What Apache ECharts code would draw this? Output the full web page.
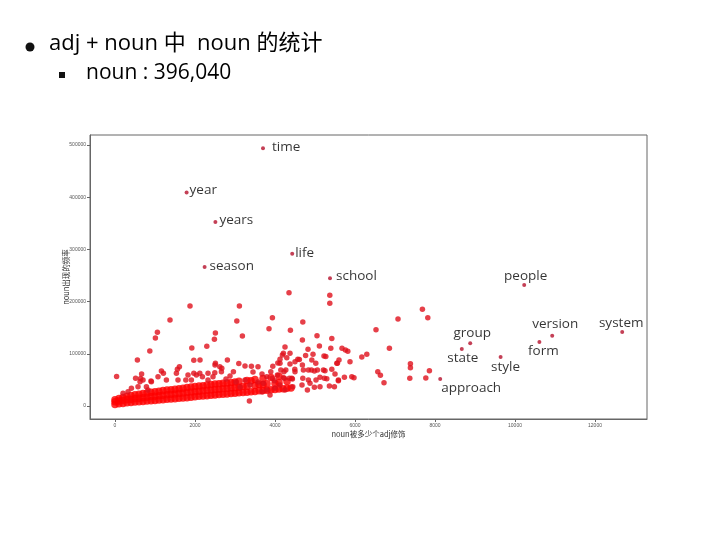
<!DOCTYPE html>
<html><head><meta charset="utf-8">
<script src="https://cdn.jsdelivr.net/npm/echarts@6/dist/echarts.min.js"></script>
<style>html,body{margin:0;padding:0;background:#fff}#c{width:720px;height:540px}</style>
</head><body><div id="c"></div>
<script>
const xTicks = [0, 2000, 4000, 6000, 8000, 10000, 12000];
const yTicks = [0, 100000, 200000, 300000, 400000, 500000];

const labeledNames = ['time','year','years','season','life','school','people','version','system','group','form','state','style','approach'];
const labeledX = [3700, 1790, 2510, 2240, 4430, 5375, 10230, 10930, 12680, 8880, 10610, 8670, 9640, 8130];
const labeledY = [494000, 409000, 352500, 266300, 291800, 244700, 231800, 134700, 141800, 120100, 122600, 109200, 93900, 51700];

const densePoints = [
[0,3000],[0,8000],[0,12000],
[100,4500],[100,9500],[100,14500],
[200,5000],[200,11000],[200,16500],
[300,6000],[300,12500],[300,18500],
[400,6500],[400,13000],[400,20000],
[500,7500],[500,14500],[500,21500],
[600,8000],[600,15000],[600,22500],
[700,8500],[700,16000],[700,24000],
[800,9500],[800,17000],[800,25000],
[900,10000],[900,18000],[900,26500],
[1000,10500],[1000,18500],[1000,27500],
[1100,11500],[1100,19500],[1100,28500],
[1200,12000],[1200,20500],[1200,29500],
[1300,13000],[1300,21500],[1300,30500],
[1400,13500],[1400,22500],[1400,31000],
[1500,14000],[1500,23000],[1500,32000],
[1600,15000],[1600,24000],[1600,33000],
[1700,15500],[1700,25000],[1700,34000],
[1800,16000],[1800,26000],[1800,35500],
[1900,17000],[1900,27000],[1900,36500],
[2000,17500],[2000,27500],[2000,37500],
[2100,18500],[2100,28500],[2100,38500],
[2200,19000],[2200,29000],[2200,39000],
[2300,19500],[2300,30000],[2300,40000],
[2400,20500],[2400,30500],[2400,41000],
[2500,21000],[2500,31500],[2500,42000],
[2600,22000],[2600,32000],[2600,42500],
[2700,22500],[2700,33000],[2700,43500],
[2800,23000],[2800,33500],[2800,44000],
[2900,24000],[2900,34500],[2900,45000],
[3000,24500],[3000,35000],[3000,46000],
[3100,25200],[3100,36000],[3100,47500],
[3200,26000],[3200,37500],
[3300,26500],[3300,38000],[3300,49000],
[3400,27500],[3400,48500],
[3500,28000],[3500,39500],[3500,51000],
[3600,29000],[3600,41000],
[3700,29500],[3700,40500],[3700,52500],
[3800,30000],[3800,42500],
[3900,31000],[3900,54500],
[4000,31500],[4000,43000],
[4100,32500],[4100,45000],[4100,57000],
[4200,33000],
[4300,34000],[4300,47000],
[4400,34500]
];

const sparsePoints = [
[4350,217100],[1875,191600],[3110,191600],[1375,164800],[3045,162900],[3935,169200],
[1060,141200],[1010,130300],[2510,139900],[2485,127800],[3185,134100],[3850,148100],[4385,145000],
[1920,111100],[2295,114400],[870,105400],[4250,113000],[560,88100],[1970,87600],[2125,88100],
[2510,81800],[2810,88100],[3095,81400],[4185,97700],[40,56500],[1160,67100],[1210,62700],
[1610,75300],[1560,70300],[515,53100],[665,61300],[640,52700],[900,47900],[3360,9600],
[3410,76100],[3575,75300],[3945,76100],[4070,82400],[4125,89500],[4295,92500],[4375,80500],
[4495,70300],[4445,37000],[4435,51700],[4235,53100],[3985,48500],[4570,89500],
[5370,212100],[5370,197000],[7685,185300],[7820,169200],[7075,166700],[4695,160900],[6525,146200],
[5050,134500],[5420,129300],[4685,126500],[4825,108800],[5110,115000],[5395,110600],[5675,110600],
[5760,107300],[5820,104800],[6860,110600],[6295,99100],[6170,93900],[4210,101000],[4375,101000],
[4765,96800],[4950,99100],[5225,95800],[5270,94800],[5600,88100],[5560,81800],[5875,84900],
[4610,89100],[4685,78600],[4920,88100],[5020,81800],[4125,81800],[4500,84900],[7385,81000],
[7385,73400],[6570,65700],[6635,58800],[7860,67600],[6725,44600],[7370,53100],[7770,53600],
[4270,69000],[4835,69000],[4985,67100],[5210,69000],[5420,70300],[4210,54200],[4420,53100],
[4695,53100],[5025,49800],[5235,53100],[5585,48500],[5735,55000],[5920,56100],[5975,54200],
[4810,30700],[4985,35800],[5125,37000],[5360,38300],[5485,37000],[4675,40200],[4835,49800],
[4875,43500],[5125,55000],[5295,52000],[5500,61300],[5585,49800],[2670,72200],[2960,65700],
[3250,76600],[3895,65700],[4145,69000],[4225,65700],[3795,56100],[3935,53100],[4060,59400],
[4360,53100],[4500,65700],[4710,69000],[4910,69000],[5060,69000],[5250,67600],[5545,81800],
[3875,21100],[3795,30700],[3710,43500],[2500,78600],[700,49800],[625,46600],
[1825,59400],[1970,62700],[2035,59400],[2120,62700],[2325,62700],[2495,63800],[2620,75300],
[2660,65700],[910,46600],[1075,56100],[1285,49800],[1535,62700],[1575,49800],[1770,49800],
[1910,49800],[2185,56100],[2325,49800],[2450,56100],[410,33900],[325,27400],[200,24300],
[575,37000],[785,37000],[825,30700],[3375,40200],[3575,46000],[3250,49800],[3125,36400],
[4125,40200],[4250,30700],[4000,34500],[3675,26800],[2875,57500],[2775,51700],[3450,65100],
[3675,61300],[3025,46000]
];

// label placement (style only)
const labelPlacement = {
  time:    {position:'right',  distance:7, offset:[0,-1]},
  year:    {position:'right',  distance:1, offset:[0,-2]},
  years:   {position:'right',  distance:2, offset:[0,-2]},
  season:  {position:'right',  distance:3, offset:[0,-1]},
  life:    {position:'right',  distance:1, offset:[0,-1]},
  school:  {position:'right',  distance:4, offset:[0,-2]},
  people:  {position:'top',    distance:0, offset:[1.5,0]},
  version: {position:'top',    distance:3, offset:[3,0]},
  system:  {position:'top',    distance:0, offset:[-1,0]},
  group:   {position:'top',    distance:1, offset:[2,0]},
  form:    {position:'bottom', distance:0, offset:[4,0]},
  state:   {position:'bottom', distance:0, offset:[1,0]},
  style:   {position:'bottom', distance:1, offset:[5,0]},
  approach:{position:'bottom', distance:0, offset:[31,0]}
};

const chart = echarts.init(document.getElementById('c'), null, {renderer:'canvas'});
const fmt = v => String(v);
chart.setOption({
  animation: false,
  backgroundColor: '#ffffff',
  graphic: [
    {type:'circle', shape:{cx:30, cy:47, r:4.5}, style:{fill:'#111'}},
    {type:'text', x:49, y:44, style:{text:'adj + noun 中  noun 的统计', font:'22px "Open Sans", "Noto Sans CJK SC", sans-serif', fill:'#000', verticalAlign:'middle'}},
    {type:'rect', shape:{x:59, y:72, width:6, height:6}, style:{fill:'#111'}},
    {type:'text', x:86, y:73, style:{text:'noun : 396,040', font:'21px "Open Sans", sans-serif', fill:'#000', verticalAlign:'middle'}}
  ],
  grid: {left:90, right:73, top:135, bottom:121, show:true, borderColor:'#666', borderWidth:1, backgroundColor:'#fff'},
  xAxis: {
    type:'value', min:-625, max:13300,
    axisLine:{show:true, onZero:false, lineStyle:{color:'#666'}},
    axisTick:{show:true, customValues:xTicks, length:3, lineStyle:{color:'#666'}},
    axisLabel:{customValues:xTicks, formatter:fmt, fontSize:5, color:'#555', margin:4},
    splitLine:{show:false},
    name:'noun被多少个adj修饰', nameLocation:'middle', nameGap:11, nameMoveOverlap:false,
    nameTextStyle:{fontSize:7.5, color:'#333', fontFamily:'"Noto Sans CJK SC", sans-serif'}
  },
  yAxis: {
    type:'value', min:-24900, max:519200,
    axisLine:{show:true, onZero:false, lineStyle:{color:'#666'}},
    axisTick:{show:true, customValues:yTicks, length:3, lineStyle:{color:'#666'}},
    axisLabel:{customValues:yTicks, formatter:fmt, fontSize:5, color:'#555', margin:4},
    splitLine:{show:false},
    name:'noun出现的频率', nameLocation:'middle', nameGap:20, nameMoveOverlap:false,
    nameTextStyle:{fontSize:7.5, color:'#333', fontFamily:'"Noto Sans CJK SC", sans-serif'}
  },
  series: [
    {type:'scatter', data:densePoints, symbolSize:7.5, itemStyle:{color:'#ff0000'}, silent:true, z:2},
    {type:'scatter', data:sparsePoints, symbolSize:5.5, itemStyle:{color:'#e0101c'}, silent:true, z:3},
    {type:'scatter', symbolSize:4, itemStyle:{color:'#b5102c'}, z:4,
     data: labeledNames.map((n,i)=>({
       name:n, value:[labeledX[i], labeledY[i]],
       label:Object.assign({show:true, formatter:n, color:'#000', fontSize:13.5, fontFamily:'"Open Sans", sans-serif'}, labelPlacement[n])
     }))}
  ]
});
</script>
</body></html>
